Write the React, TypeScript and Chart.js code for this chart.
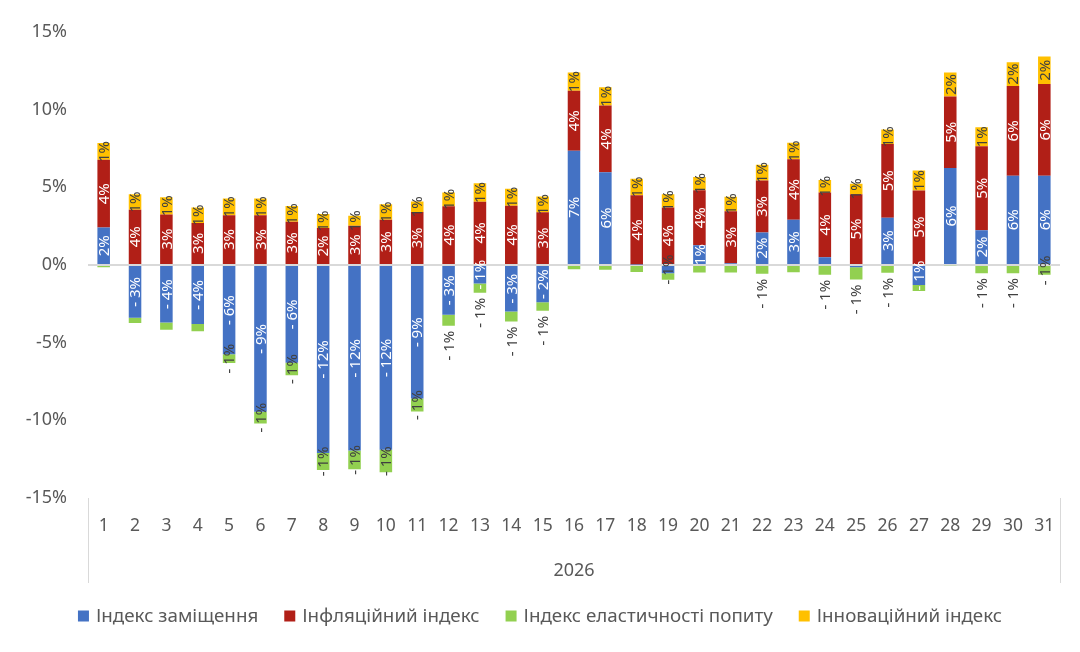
import React, { useEffect, useRef } from 'react';
import { Chart, registerables } from 'chart.js';

Chart.register(...registerables);

// values in percent
const days = Array.from({ length: 31 }, (_, i) => String(i + 1));

const replacement = [
  2.4, -3.4, -3.7, -3.8, -5.75, -9.45, -6.3, -12.1, -11.95, -11.9, -8.6, -3.2, -1.2, -3.0, -2.4, 7.34,
  5.96, 0.03, -0.53, 1.26, 0.1, 2.09, 2.9, 0.49, -0.15, 3.04, -1.3, 6.23, 2.23, 5.74, 5.74,
];
const inflation = [
  4.36, 3.55, 3.25, 2.7, 3.2, 3.2, 2.77, 2.37, 2.52, 2.9, 3.4, 3.78, 4.06, 3.8, 3.38, 3.87,
  4.3, 4.45, 3.7, 3.55, 3.36, 3.34, 3.9, 4.17, 4.55, 4.74, 4.79, 4.6, 5.4, 5.77, 5.9,
];
const elasticity = [
  -0.15, -0.34, -0.48, -0.47, -0.57, -0.75, -0.8, -1.1, -1.2, -1.45, -0.83, -0.72, -0.6, -0.64, -0.55, -0.28,
  -0.32, -0.45, -0.43, -0.49, -0.49, -0.57, -0.47, -0.64, -0.79, -0.51, -0.38, -0.05, -0.53, -0.53, -0.64,
];
const innovation = [
  1.08, 1.0, 1.1, 1.0, 1.07, 1.07, 1.02, 0.9, 0.64, 1.0, 0.68, 0.88, 1.19, 1.1, 1.02, 1.17,
  1.17, 1.07, 0.85, 0.85, 0.93, 1.02, 1.06, 0.81, 0.68, 0.94, 1.28, 1.55, 1.23, 1.53, 1.77,
];

const seriesNames = ['Індекс заміщення', 'Інфляційний індекс', 'Індекс еластичності попиту', 'Інноваційний індекс'];
const seriesColors = ['#4472C4', '#B11F17', '#92D050', '#FFC000'];
const yearLabel = '2026';

const FONT = '"Noto Sans", sans-serif';
const TEXT = '#595959';
const DARK = '#404040';

const fmt = (v: number) => (v < 0 ? `- ${Math.round(-v)}%` : `${Math.round(v)}%`);

// data labels, rotated like in Excel
const labelsPlugin = {
  id: 'barLabels',
  afterDatasetsDraw(chart: any) {
    const ctx = chart.ctx as CanvasRenderingContext2D;
    ctx.save();
    ctx.font = `15px ${FONT}`;
    ctx.textAlign = 'center';
    ctx.textBaseline = 'middle';
    chart.data.datasets.forEach((ds: any, di: number) => {
      const meta = chart.getDatasetMeta(di);
      meta.data.forEach((el: any, i: number) => {
        const v = ds.data[i] as number;
        if (Math.round(Math.abs(v)) < 1) return;
        const { x, y, base } = el.getProps(['x', 'y', 'base'], true);
        const top = Math.min(y, base);
        const bottom = Math.max(y, base);
        const h = bottom - top;
        const text = fmt(v);
        const w = ctx.measureText(text).width;
        let cy = (top + bottom) / 2;
        let color = di < 2 ? '#FFFFFF' : DARK;
        if (di === 0 && h < 12) color = DARK;
        if (di === 2 && replacement[i] > -4.5 && i !== 30) {
          cy = bottom + 5 + w / 2;
        }
        ctx.save();
        ctx.translate(x + 1, cy);
        ctx.rotate(-Math.PI / 2);
        ctx.fillStyle = color;
        ctx.fillText(text, 0, 0);
        ctx.restore();
      });
    });
    ctx.restore();
  },
};

// group label, category separators and legend
const decorPlugin = {
  id: 'decor',
  afterDraw(chart: any) {
    const ctx = chart.ctx as CanvasRenderingContext2D;
    const { left, right, bottom } = chart.chartArea;
    ctx.save();
    ctx.strokeStyle = '#D9D9D9';
    ctx.lineWidth = 1;
    [left, right].forEach((px) => {
      ctx.beginPath();
      ctx.moveTo(Math.round(px) + 0.5, bottom);
      ctx.lineTo(Math.round(px) + 0.5, bottom + 85);
      ctx.stroke();
    });

    ctx.fillStyle = TEXT;
    ctx.font = `18px ${FONT}`;
    ctx.textAlign = 'center';
    ctx.textBaseline = 'middle';
    ctx.fillText(yearLabel, (left + right) / 2, 571);

    // legend
    ctx.font = `18.8px ${FONT}`;
    ctx.textAlign = 'left';
    const box = 11;
    const gap = 7;
    const spacing = 26;
    const widths = seriesNames.map((n) => box + gap + ctx.measureText(n).width);
    const total = widths.reduce((a, b) => a + b, 0) + spacing * (seriesNames.length - 1);
    let lx = (chart.width - total) / 2;
    const ly = 616;
    seriesNames.forEach((n, k) => {
      ctx.fillStyle = seriesColors[k];
      ctx.fillRect(lx, ly - box / 2, box, box);
      ctx.fillStyle = TEXT;
      ctx.fillText(n, lx + box + gap, ly + 1);
      lx += widths[k] + spacing;
    });
    ctx.restore();
  },
};

const App: React.FC = () => {
  const canvasRef = useRef<HTMLCanvasElement | null>(null);
  const chartRef = useRef<Chart | null>(null);

  useEffect(() => {
    document.body.style.margin = '0';
    if (!canvasRef.current) return;
    if (chartRef.current) chartRef.current.destroy();

    const series = [replacement, inflation, elasticity, innovation];
    chartRef.current = new Chart(canvasRef.current, {
      type: 'bar',
      data: {
        labels: days,
        datasets: series.map((d, k) => ({
          label: seriesNames[k],
          data: d,
          backgroundColor: seriesColors[k],
          borderWidth: 0,
          barPercentage: 0.4,
          categoryPercentage: 1,
        })),
      },
      options: {
        responsive: false,
        animation: false,
        layout: { padding: { top: 27, right: 20, left: 0, bottom: 0 } },
        plugins: { legend: { display: false }, tooltip: { enabled: false } },
        scales: {
          x: {
            stacked: true,
            grid: { display: false, drawTicks: false },
            border: { display: false },
            ticks: { color: TEXT, font: { family: FONT, size: 17.5 }, padding: 18, maxRotation: 0, autoSkip: false },
            afterFit: (s: any) => {
              s.height = 154;
            },
          },
          y: {
            stacked: true,
            min: -15,
            max: 15,
            ticks: {
              stepSize: 5,
              color: TEXT,
              font: { family: FONT, size: 18 },
              padding: 21,
              callback: (v: any) => `${v}%`,
            },
            grid: {
              drawTicks: false,
              color: (c: any) => (c.tick && c.tick.value === 0 ? '#D9D9D9' : 'rgba(0,0,0,0)'),
              lineWidth: 2,
            },
            border: { display: false },
            afterFit: (s: any) => {
              s.width = 88;
            },
          },
        },
      },
      plugins: [labelsPlugin, decorPlugin],
    });

    return () => {
      if (chartRef.current) {
        chartRef.current.destroy();
        chartRef.current = null;
      }
    };
  }, []);

  return (
    <div style={{ width: 1080, height: 652 }}>
      <canvas ref={canvasRef} width={1080} height={652} />
    </div>
  );
};

export default App;
